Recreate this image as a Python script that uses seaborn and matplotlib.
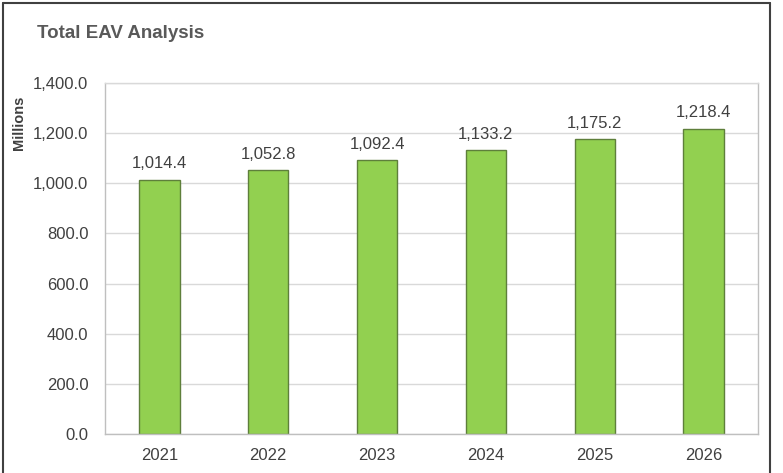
import matplotlib
matplotlib.use("Agg")
import matplotlib.pyplot as plt
from matplotlib.lines import Line2D
import seaborn as sns
import pandas as pd

years = ["2021", "2022", "2023", "2024", "2025", "2026"]
eav_millions = [1014.4, 1052.8, 1092.4, 1133.2, 1175.2, 1218.4]
y_ticks = [0, 200, 400, 600, 800, 1000, 1200, 1400]

df = pd.DataFrame({"year": years, "eav": eav_millions})

sns.set_theme(style="white")
plt.rcParams["font.family"] = ["Liberation Sans", "DejaVu Sans"]

W, H = 783, 473
fig = plt.figure(figsize=(W / 100, H / 100), dpi=100)
fig.patch.set_facecolor("white")

left, right, top, bottom = 105, 758, 83, 434
ax = fig.add_axes([left / W, 1 - bottom / H, (right - left) / W, (bottom - top) / H])

sns.barplot(data=df, x="year", y="eav", ax=ax, color="#92D050",
            edgecolor="#5E7F3B", linewidth=1.0, width=0.37, saturation=1)

ax.set_ylim(0, 1400)
ax.set_xlim(-0.5, len(years) - 0.5)
ax.set_yticks(y_ticks)
ax.set_yticklabels([f"{v:,.1f}" for v in y_ticks])
ax.yaxis.grid(True, color="#D9D9D9", linewidth=1.0)
ax.set_axisbelow(True)
for s in ax.spines.values():
    s.set_visible(True)
    s.set_color("#BFBFBF")
    s.set_linewidth(1.0)
ax.spines["top"].set_color("#D9D9D9")
ax.tick_params(axis="both", length=0, labelsize=12, labelcolor="#404040")
ax.tick_params(axis="x", pad=10)
ax.tick_params(axis="y", pad=12)
ax.set_xlabel("")
ax.set_ylabel("Millions", fontsize=10.5, fontweight="bold", color="#404040")
ax.yaxis.set_label_coords(-0.121, 0.886)

for i, v in enumerate(eav_millions):
    ax.annotate(f"{v:,.1f}", (i, v), xytext=(0, 6), textcoords="offset points",
                ha="center", va="bottom", fontsize=12, color="#404040")

fig.text(37 / W, 1 - 34 / H, "Total EAV Analysis", fontsize=13.5, fontweight="bold",
         color="#595959", ha="left", va="center")

# outer chart frame (bottom edge runs off the canvas)
frame_kw = dict(color="#404040", linewidth=1.5, transform=fig.transFigure)
fx0, fx1, fy1 = 3 / W, 770 / W, 1 - 3.5 / H
fig.add_artist(Line2D([fx0, fx0], [0, fy1], **frame_kw))
fig.add_artist(Line2D([fx0, fx1], [fy1, fy1], **frame_kw))
fig.add_artist(Line2D([fx1, fx1], [0, fy1], **frame_kw))

fig.savefig("out.png", dpi=100)
